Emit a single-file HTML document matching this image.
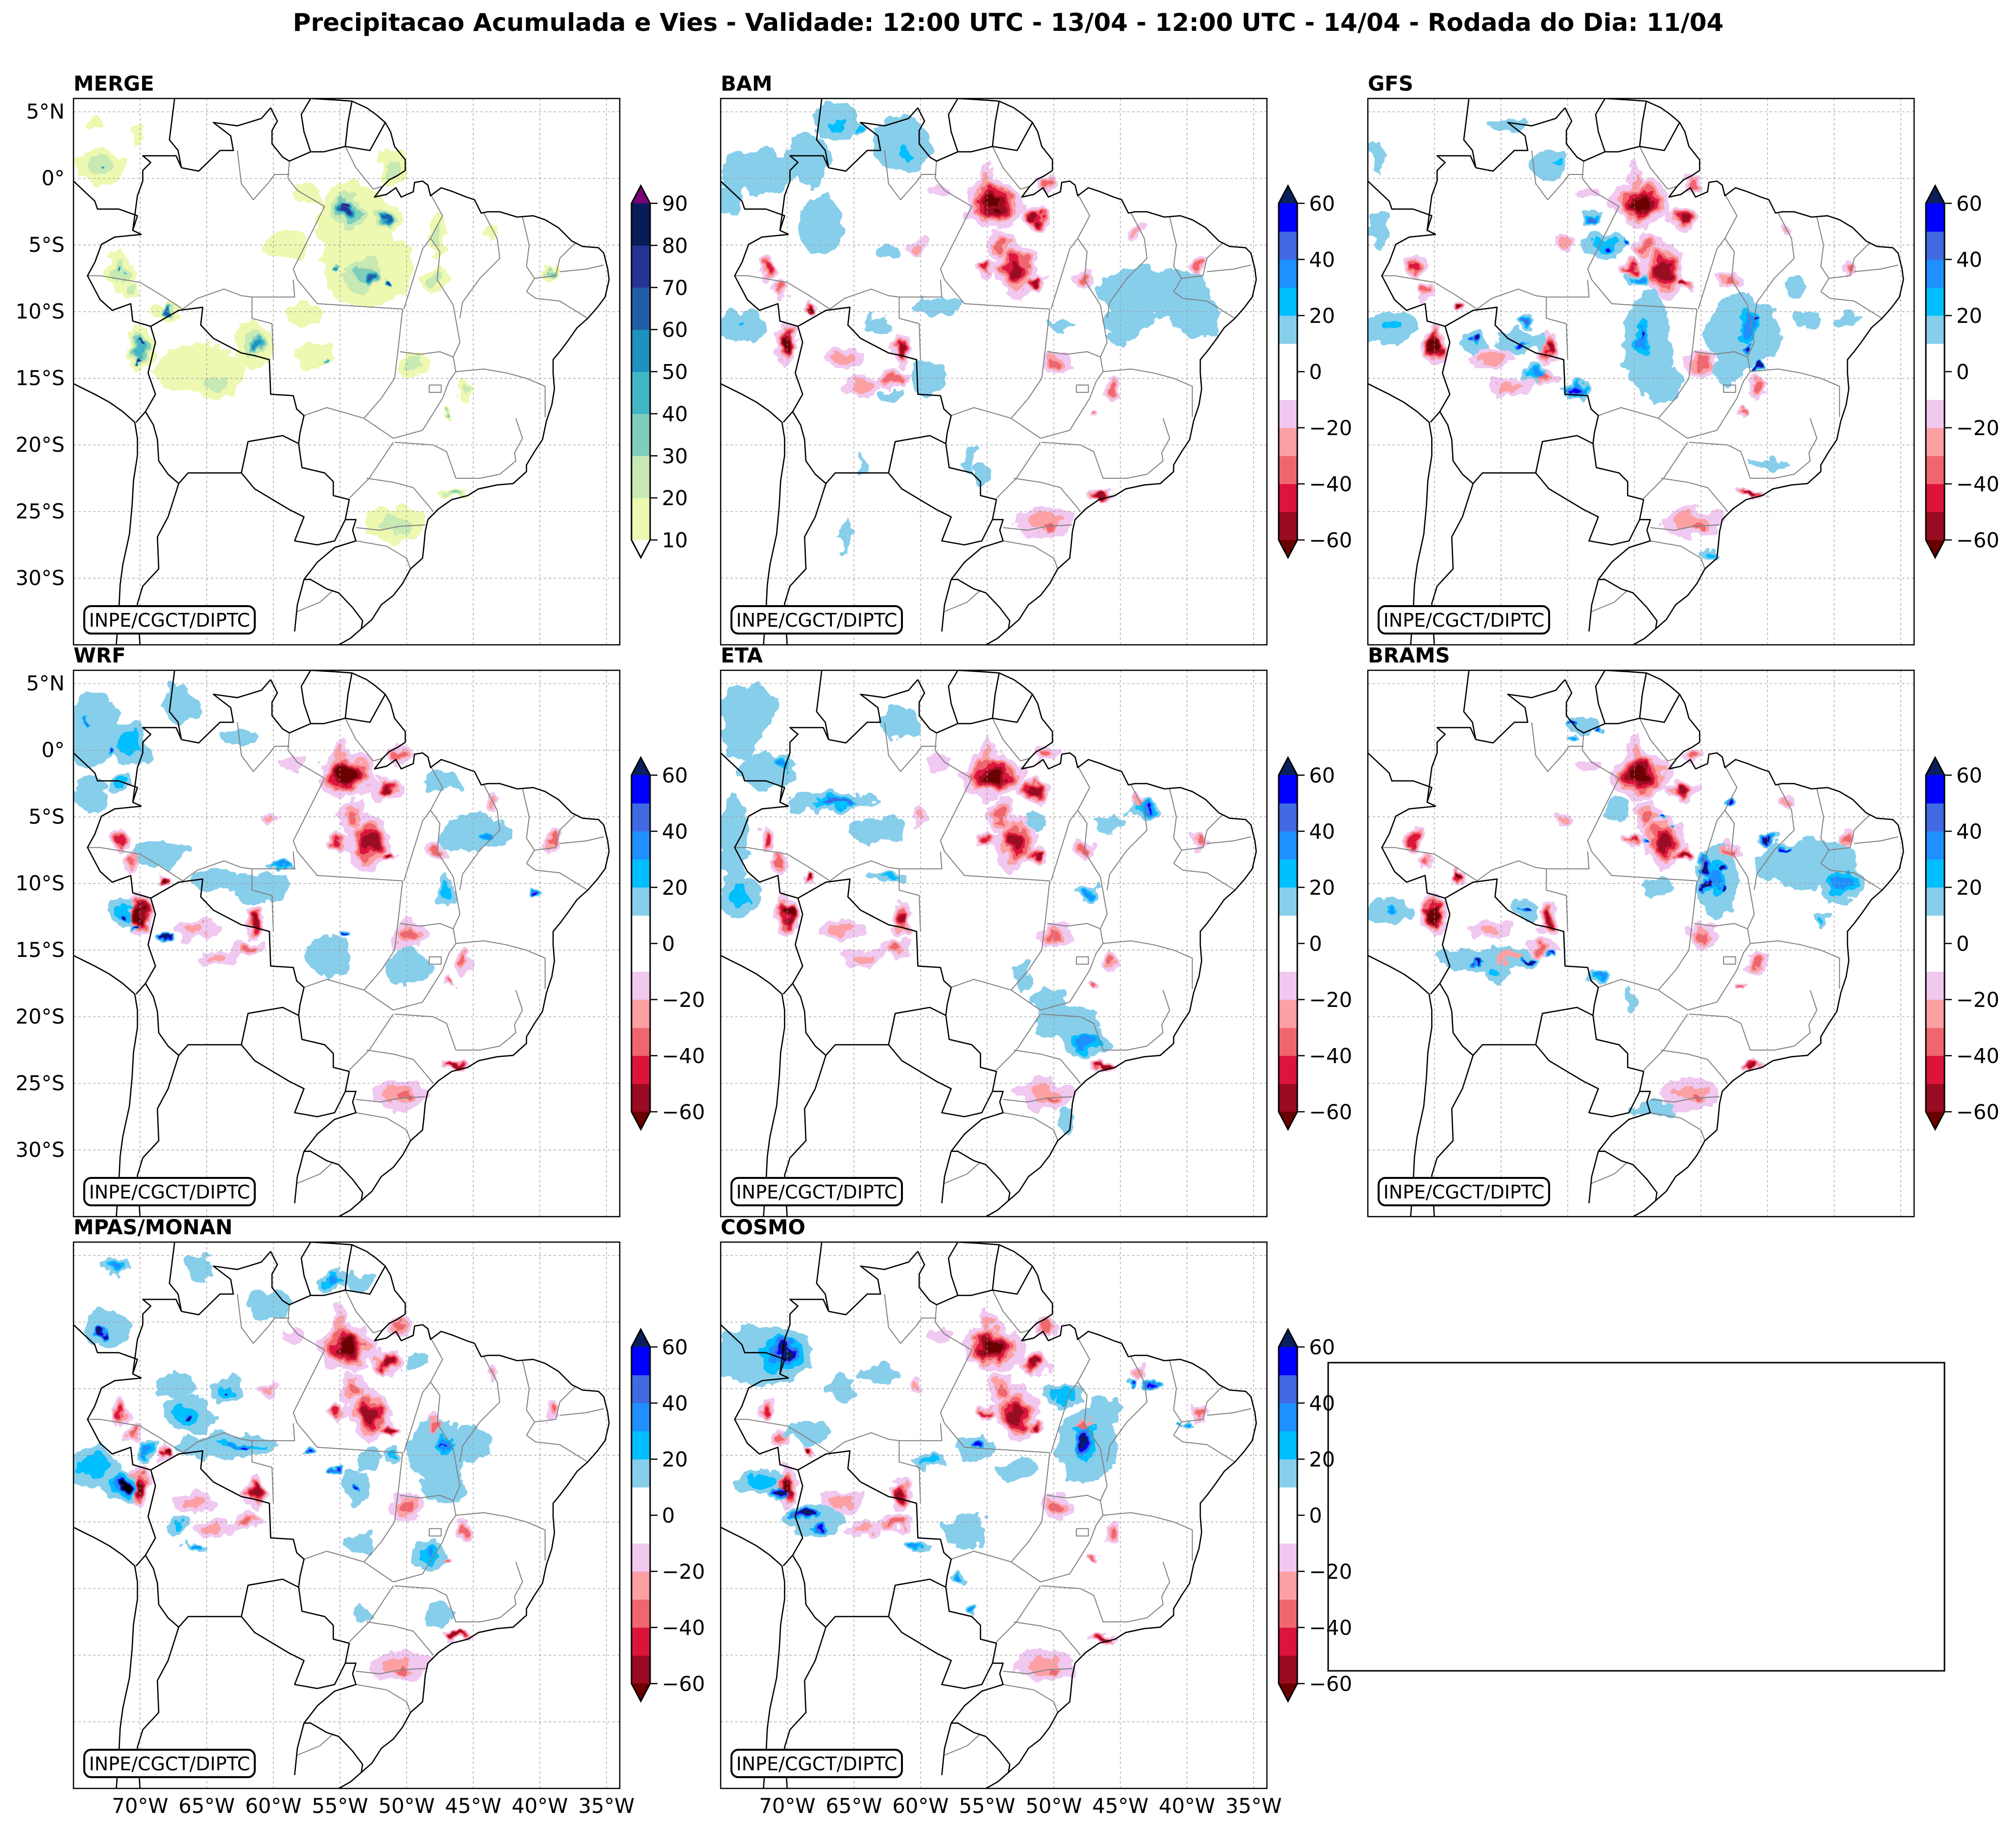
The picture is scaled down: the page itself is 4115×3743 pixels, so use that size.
<!DOCTYPE html>
<html><head><meta charset="utf-8"><title>Precipitacao Acumulada e Vies</title>
<style>
html,body{margin:0;padding:0;background:#fff;}
svg{display:block;font-family:"DejaVu Sans","Liberation Sans",sans-serif;}
</style></head>
<body>
<svg id="fig" xmlns="http://www.w3.org/2000/svg" width="4115" height="3743" viewBox="0 0 4115 3743">
<defs>
<filter id="rough" x="-5%" y="-5%" width="110%" height="110%">
<feTurbulence type="fractalNoise" baseFrequency="0.028" numOctaves="3" seed="7" result="n"/>
<feDisplacementMap in="SourceGraphic" in2="n" scale="40" xChannelSelector="R" yChannelSelector="G"/>
</filter>
</defs>
<rect x="0" y="0" width="4115" height="3743" fill="#fff"/>
<text x="2058" y="63" text-anchor="middle" font-size="50" font-weight="bold">Precipitacao Acumulada e Vies - Validade: 12:00 UTC - 13/04 - 12:00 UTC - 14/04 - Rodada do Dia: 11/04</text>
</svg>
<script>
// ---------- tick / level data ----------
const latTicks = [5, 0, -5, -10, -15, -20, -25, -30];
const latLabels = ["5°N", "0°", "5°S", "10°S", "15°S", "20°S", "25°S", "30°S"];
const lonTicks = [-70, -65, -60, -55, -50, -45, -40, -35];
const lonLabels = ["70°W", "65°W", "60°W", "55°W", "50°W", "45°W", "40°W", "35°W"];
const mergeLevels = [10, 20, 30, 40, 50, 60, 70, 80, 90];
const mergeColors = ["#edf8b1", "#c7e9b4", "#7fcdbb", "#41b6c4", "#1d91c0", "#225ea8", "#253494", "#081d58"];
const biasLevels = [-60, -50, -40, -30, -20, -10, 0, 10, 20, 30, 40, 50, 60];
const biasColors = ["#990b20", "#dc143c", "#f0666e", "#fca0a4", "#f0c8f0", "#ffffff", "#ffffff", "#87ceeb", "#00bfff", "#1e90ff", "#4169e1", "#0000ff"];
const biasTicks = [60, 40, 20, 0, -20, -40, -60];

// ---------- field blobs: [lon, lat, rxDeg, ryDeg, level] ----------
const mergeBlobs = [
 [-54,-3,2.5,2.5,1],[-54.5,-2.5,1.6,1.8,4],[-54.6,-2.5,1.0,1.2,7],[-54.5,-1.9,0.6,0.4,9],
 [-51.6,-3.0,1.0,0.8,3],[-51.6,-3,0.6,0.5,6],
 [-53,-6.5,3,3,1],[-53.2,-7.2,1.8,1.6,3],[-52.7,-7.5,0.8,1.0,6],[-51.3,-7.8,0.5,0.3,7],[-55.2,-6.8,0.4,0.4,5],
 [-59,-5,1.5,1.0,1],[-73,1,1.6,1.2,2],[-72.8,0.7,0.3,0.3,5],[-73.3,4.0,0.5,0.5,1],[-70.3,3.3,0.5,0.7,1],
 [-71.6,-7,0.9,1.5,2],[-71.6,-6.7,0.3,0.3,5],[-70.7,-8.5,0.6,0.6,2],[-68,-10,1,0.6,2],[-68.2,-9.9,0.5,0.5,6],
 [-70,-12.8,0.9,1.5,4],[-69.9,-12.2,0.3,0.3,8],[-70.1,-13.6,0.4,0.3,9],
 [-65.5,-14.3,3.0,1.6,1],[-64.3,-15.5,1.5,0.9,2],[-61.4,-12.5,1.3,1.6,2],[-61.3,-12.6,0.7,1.0,5],
 [-57.5,-10.2,1.2,0.6,1],[-57,-13.4,1.5,0.8,1],[-56,-13.8,0.3,0.3,4],[-49.6,-13.9,1.0,0.7,2],
 [-45.7,-16,0.5,0.6,2],[-47,-17.6,0.3,0.3,3],[-47.6,-4.3,0.7,1.5,2],[-48,-7.5,1.0,0.9,2],
 [-39.2,-7,0.5,0.6,3],[-43.7,-4,0.4,0.6,1],[-46.5,-23.6,1.0,0.4,3],[-50.9,-25.9,2.0,1.2,2],
 [-51,0.8,1.0,1.3,2],[-57.5,-1.3,1.0,0.6,1]
];
const biasCommon = [
 [-54.5,-1.9,2.0,1.6,-6],[-55,-0.3,0.5,1.3,-2],[-51.4,-3.0,1.1,0.8,-5],[-52.8,-6.9,1.4,1.9,-5],
 [-51.3,-7.9,0.7,0.5,-5],[-54.0,-5.0,0.9,1.1,-3],[-55.1,-6.7,0.8,0.5,-4],[-71.5,-6.7,0.6,0.9,-4],
 [-70.6,-8.5,0.6,0.6,-3],[-68.2,-9.7,0.45,0.5,-6],[-70.0,-12.4,0.8,1.5,-6],[-61.4,-12.8,0.7,1.1,-5],
 [-62.0,-14.9,1.2,0.6,-3],[-65.9,-13.5,1.5,0.7,-2],[-49.9,-13.9,1.1,0.9,-3],[-45.7,-15.8,0.6,0.8,-3],
 [-47.0,-17.7,0.4,0.3,-3],[-46.3,-23.7,0.9,0.35,-5],[-50.7,-25.8,2.0,1.0,-2],[-50.2,-26.1,1.0,0.5,-3],
 [-47.8,-7.6,0.8,0.6,-3],[-39.1,-6.8,0.5,0.7,-3],[-43.6,-3.9,0.5,0.5,-2],[-50.6,-0.4,0.8,0.6,-3],
 [-58.5,-1.0,0.8,0.5,-1],[-60.2,-5,0.6,0.5,-2],[-64.3,-15.6,1.4,0.6,-2]
];
const bamBlobs = [
 [-72.3,0.5,2.5,1.5,1],[-68.5,1.5,1.5,1.8,1],[-66.4,4.3,1.5,1.3,1],[-66.2,4.0,0.6,0.5,2],[-61.4,2.5,2.0,1.8,1],
 [-61,1.8,0.8,0.8,2],[-64.5,3.7,0.5,0.4,2],[-67.5,-3.5,1.5,2.0,1],[-62.4,-5.6,0.8,0.5,1],
 [-42.5,-8.5,4.0,1.6,1],[-44.5,-10.5,1.5,1.2,1],[-39.5,-10.5,1.6,1.4,1],[-58.8,-9.6,1.5,0.6,1],
 [-73.4,-11,1.6,1.0,1],[-73.6,-10.8,0.5,0.4,2],[-59.3,-14.9,1.2,1.2,1],[-63,-11,1.0,0.6,1],
 [-56.2,-21.2,0.4,1.0,1],[-55.4,-22.2,0.4,0.8,1],[-65.6,-26.8,0.25,1.2,1],[-64.5,-21.5,0.25,0.8,1],
 [-49.3,-11,0.8,0.4,1],[-45.4,-12,0.6,0.4,1],[-74.3,-1.5,0.8,1.2,1],[-62,-16.3,0.8,0.5,1]
];
const gfsBlobs = [
 [-61.4,1.0,1.3,1.2,1],[-60.5,1.2,0.5,0.3,2],[-64.5,4.0,1.5,0.5,1],[-74.2,-3.9,0.7,1.3,1],
 [-58.2,-2.9,0.6,0.5,4],[-57.2,-5,1.5,0.8,2],[-57.2,-5.1,0.3,0.3,5],[-55.6,-4.7,0.3,0.3,5],
 [-54.6,-7.6,1.0,0.5,3],[-54.0,-12.5,1.6,3.5,1],[-54.4,-12.0,0.7,2,3],[-54.4,-11.6,0.3,0.3,6],
 [-46.8,-11.5,2.5,2.5,1],[-46.5,-11,0.8,2,3],[-46.2,-10.7,0.3,0.3,6],[-46.5,-12.8,0.3,0.3,6],[-45.5,-14.3,0.3,0.3,6],
 [-73.4,-11.2,1.8,1.0,1],[-73.2,-11.3,0.8,0.5,2],[-66.9,-12.3,0.9,0.7,1],[-66.9,-12.2,0.5,0.4,6],
 [-63.5,-12.3,1.7,0.8,1],[-63.5,-12.4,0.7,0.3,5],[-63,-10.7,0.6,0.5,4],[-62.4,-14.6,0.8,0.7,3],
 [-59.3,-15.9,0.9,0.6,5],[-42,-10.7,0.9,0.7,1],[-38.9,-10.7,0.8,0.5,1],[-42.8,-8.1,0.7,0.7,1],
 [-44.9,-21.4,1.4,0.3,1],[-49.3,-28.3,0.6,0.4,2],[-53,-15.5,1.4,1.2,1],[-48,-14.6,1.2,0.8,1],[-74.3,1.5,0.5,1.2,1]
];
const wrfBlobs = [
 [-73.5,1.5,1.8,2.5,1],[-70.8,0.5,1.5,1.5,2],[-72.1,-0.2,0.3,0.3,5],[-74.2,2.25,0.3,0.3,4],
 [-73.7,-3.4,1.2,1.2,1],[-71.5,-2.5,0.8,0.6,2],[-67.1,3.4,1.2,1.5,1],[-71.1,-12.3,1.3,0.9,2],
 [-71.2,-12.5,0.4,0.4,6],[-70.3,-13.3,0.4,0.2,6],[-68.3,-14.1,0.5,0.3,6],[-59.3,-8.6,1.0,0.3,3],
 [-61.1,-10.2,2.0,1.0,1],[-55.9,-15.4,1.5,1.5,1],[-49.9,-16.2,1.5,1.2,1],[-44.9,-6.3,2.5,1.2,1],
 [-44,-6.5,0.6,0.5,3],[-47.5,-2.3,1.3,0.8,1],[-40.2,-10.8,0.3,0.3,5],[-68.5,-7.8,2.0,0.8,1],
 [-64.5,-9.7,1.5,0.8,1],[-54.6,-13.7,0.3,0.3,5],[-47.0,-10.5,0.6,1.2,2],[-62.5,1.0,1.2,0.5,1]
];
const etaBlobs = [
 [-66.6,-3.9,3.0,0.6,2],[-66.2,-3.9,1.8,0.3,4],[-73.5,2,1.5,2.5,1],[-71.5,-1.5,2,1.2,1],
 [-70.3,-1.0,0.7,0.8,3],[-74,-7,1.0,3.5,1],[-73.6,-11,1.2,1.4,2],[-63.2,-6,2.0,0.9,1],
 [-62.4,-9.4,1.3,0.4,2],[-43.1,-4.4,1.2,0.5,3],[-43.0,-4.4,0.4,0.2,5],[-47.5,-10.7,0.9,0.7,3],
 [-49,-20.5,2.2,1.2,1],[-47.5,-22,1.6,0.9,3],[-50.5,-19,1.3,1.0,1],[-49.1,-27.8,0.5,1.0,1],
 [-52.2,-17,0.6,1.0,1],[-45.7,-5.5,1.2,0.5,1],[-61.6,2.1,1.5,1.0,1],[-72.4,3.2,1.5,1.5,1],[-51.3,-5.2,0.6,0.5,1]
];
const bramsBlobs = [
 [-48.8,-10,1.5,2.5,1],[-49.0,-9.5,1.0,1.8,3],[-49.7,-8.5,0.5,1.0,6],[-49.6,-10.1,0.4,1.0,6],
 [-48.3,-9,0.3,0.4,6],[-48.5,-10.4,0.3,0.3,6],[-42,-8.5,3.5,1.6,1],[-45,-6.7,0.7,0.5,6],
 [-43.5,-7.3,0.4,0.3,5],[-39.5,-10,1.5,1.2,3],[-66,-15.7,3.5,0.8,1],[-66.7,-15.9,0.5,0.3,6],
 [-63,-15.7,0.7,0.3,6],[-61,-15.4,0.4,0.2,5],[-65.3,-16.7,0.8,0.6,2],[-73.4,-12,1.5,0.7,1],
 [-73.3,-12,0.6,0.3,3],[-63.2,-11.8,0.8,0.8,1],[-63.2,-11.9,0.35,0.3,6],[-58.8,1.9,1.0,0.6,1],
 [-59.5,2,0.4,0.2,5],[-57.6,1.5,0.3,0.2,5],[-59.6,0.8,0.5,0.3,3],[-56.2,-4.4,0.8,0.8,1],
 [-53,-5,0.3,0.2,5],[-52,-5.5,0.2,0.2,4],[-54.1,-6.8,0.2,0.2,5],[-47.8,-3.9,0.6,0.3,5],
 [-53.3,-10.2,1.0,0.6,1],[-53.5,-26.9,1.5,0.5,1],[-55.4,-18.6,0.4,1.0,1],[-57.7,-17,0.6,0.4,3],[-41,-12.8,0.5,0.5,2]
];
const mpasBlobs = [
 [-63.5,-9.3,3.5,0.8,1],[-62.5,-9.3,2.4,0.4,3],[-62,-9.4,0.8,0.25,5],[-57.3,-9.7,0.5,0.3,5],
 [-66.4,-7,1.8,1.2,2],[-66.3,-7,0.4,0.4,6],[-63.5,-5.2,1.2,0.8,2],[-63.5,-5.3,0.3,0.2,6],
 [-67.4,-4.7,1.3,1.0,1],[-73.5,-10.8,1.8,1.4,2],[-71.3,-12.3,1.3,1.0,3],[-71.2,-12.3,0.6,0.6,7],
 [-69.5,-9.7,0.6,0.9,3],[-71.9,4.1,1.0,0.6,3],[-72.5,-0.5,1.5,1.3,1],[-72.8,-0.9,0.5,0.5,6],
 [-65.6,4,0.8,1.0,1],[-60.3,1.3,1.5,1.0,1],[-55.6,3.2,0.8,0.7,3],[-53.5,2.9,1.2,0.7,1],
 [-47.5,-9.7,2.0,2.3,1],[-47.2,-9.3,0.8,1.0,3],[-47.4,-9.3,0.2,0.2,5],[-44.9,-9.1,1.2,1.2,1],
 [-47.2,-12.3,1.5,1.2,1],[-48.3,-17.5,1.2,1.0,2],[-48.3,-17.4,0.5,0.6,3],[-53.8,-12.3,1.0,1.3,1],
 [-53.8,-12.3,0.3,0.3,5],[-55.4,-11.2,0.4,0.4,5],[-52.8,-10.2,0.8,0.8,1],[-51.2,-10,0.5,0.7,2],
 [-53.5,-16.5,0.9,0.9,1],[-47.5,-22,0.9,0.8,1],[-53.3,-22,0.5,0.5,1],[-66.1,-17,0.7,0.4,3],
 [-67.1,-15.2,0.7,0.6,2],[-49.1,-2.9,0.7,0.6,1]
];
const cosmoBlobs = [
 [-72,-2.5,3,2,1],[-70.5,-2.5,2.2,1.8,3],[-70.3,-2.3,1.3,1.3,6],[-72,-12,2,0.8,2],
 [-70.5,-12.8,0.8,0.5,6],[-68.8,-14.5,1.2,0.5,6],[-67.5,-15.3,0.8,0.4,5],[-68,-14.8,2,1,1],
 [-47.5,-9.2,2.0,2.5,1],[-47.6,-9,1.3,1.8,3],[-47.8,-8.9,0.9,1.5,6],[-55.9,-9.4,1.3,0.8,1],
 [-55.6,-9.1,0.5,0.3,5],[-49.3,-5.5,1.5,0.6,2],[-63.2,-3.9,1.5,0.6,1],[-65.8,-5,1,1,1],
 [-59.3,-10.5,1.2,0.5,2],[-52.8,-11,1.5,0.6,1],[-56.7,-15.7,1.5,1.0,1],[-60.3,-17,0.8,0.4,3],
 [-57.2,-19.4,0.6,0.4,3],[-42.5,-4.7,0.5,0.3,5],[-44.1,-4.6,0.3,0.2,5],[-68.5,-8.4,1.5,0.7,1],
 [-46.2,-6.5,1.2,0.8,1],[-39.9,-7.8,0.4,0.2,3],[-56.2,-21.3,0.4,0.4,3]
];

// ---------- geography (lon, lat) ----------
const coastLines = [
 [[-57.2,6.0],[-55.5,5.9],[-54.1,5.8],[-53,5.3],[-52.3,4.8],[-51.6,4.2],[-51.2,3.5],[-50.9,2.4],[-50.1,1.4],[-50.1,0.6],[-50.7,0.2],[-51.3,-0.1],[-51.8,-0.6],[-52.4,-1.4],[-51.5,-1.2],[-50.8,-0.7],[-50.4,-1.4],[-49.5,-1.0],[-49.4,-0.3],[-48.8,-0.2],[-48.4,-0.5],[-48.2,-1.3],[-47.4,-0.7],[-46.5,-1.0],[-45.5,-1.4],[-44.9,-1.6],[-44.4,-2.6],[-43.9,-2.5],[-43.0,-2.5],[-41.7,-2.9],[-40.5,-2.8],[-39.6,-3.1],[-38.6,-3.7],[-37.6,-4.7],[-36.8,-5.1],[-35.6,-5.2],[-35.2,-5.6],[-34.9,-6.8],[-34.8,-7.6],[-35.1,-8.9],[-35.7,-9.7],[-36.4,-10.5],[-37.2,-11.2],[-37.9,-12.2],[-38.5,-13.0],[-39.0,-13.6],[-39.0,-14.6],[-38.9,-15.8],[-39.1,-17.0],[-39.5,-18.2],[-39.8,-19.6],[-40.4,-20.5],[-41.0,-21.5],[-41.0,-22.0],[-42.0,-22.9],[-43.2,-23.0],[-44.6,-23.3],[-45.4,-23.8],[-46.6,-24.1],[-47.6,-24.8],[-48.4,-25.6],[-48.6,-26.5],[-48.7,-27.6],[-48.8,-28.5],[-49.7,-29.3],[-50.3,-30.4],[-51.0,-31.3],[-51.9,-32.0],[-52.6,-33.1],[-53.4,-33.8],[-54.2,-34.5],[-54.9,-34.9],[-55.5,-35.2]],
 [[-75,-15.4],[-74.2,-15.8],[-73.4,-16.2],[-72.3,-16.8],[-71.3,-17.5],[-70.4,-18.3],[-70.2,-19.5],[-70.2,-20.8],[-70.5,-22.7],[-70.6,-24.5],[-70.8,-26.7],[-71.3,-29],[-71.5,-30.5],[-71.6,-32.5],[-71.8,-35.2]]
];
const borderLines = [
 [[-51.6,4.2],[-52.2,3.1],[-52.75,2.1],[-54.6,2.4],[-56.2,2.0],[-57.2,2.0],[-58.8,1.3],[-59.3,1.6],[-60.1,2.6],[-60.1,3.6],[-59.7,4.3],[-60.2,5.3]],
 [[-60.2,5.3],[-60.9,4.5],[-62.7,3.95],[-64.5,4.2],[-63.2,3.2],[-63.0,2.1],[-64.0,2.1],[-65.6,0.55],[-66.9,0.8]],
 [[-66.9,0.8],[-67.3,1.7],[-69.8,1.7],[-69.2,1.2],[-69.8,0.6],[-69.8,-0.2],[-70.2,-1.3],[-70.55,-3.9],[-69.9,-4.2]],
 [[-69.9,-4.2],[-71.9,-4.4],[-72.9,-4.95],[-73.4,-6.3],[-73.95,-7.3],[-73.0,-9.1],[-72.1,-9.9],[-70.7,-9.4],[-70.55,-10.7],[-69.2,-11.1]],
 [[-69.2,-11.1],[-67.1,-9.9],[-65.3,-9.67],[-65.45,-11],[-64.5,-12],[-62.4,-13.1],[-61.4,-13.3],[-60.3,-13.6],[-60.2,-16.2],[-58.5,-16.3],[-58.25,-17.3],[-57.7,-17.8],[-58.0,-19.1],[-58.1,-19.9]],
 [[-58.1,-19.9],[-57.85,-21.7],[-56.15,-22.1],[-55.5,-22.75],[-55.5,-23.8],[-54.3,-24.1],[-54.6,-25.6]],
 [[-54.6,-25.6],[-53.8,-25.6],[-54.05,-26.4],[-53.8,-27.2],[-55.4,-27.7],[-56.7,-28.8],[-57.7,-30.1]],
 [[-57.7,-30.1],[-57.2,-30.1],[-56.0,-30.8],[-55.1,-31.1],[-54.05,-32.2],[-53.3,-33.2],[-53.4,-33.8]],
 [[-57.7,-30.1],[-58.2,-32],[-58.4,-34]],
 [[-57.2,2.0],[-57.7,3.5],[-57.9,4.8],[-57.2,6.0]],
 [[-54.6,2.4],[-54.4,4.2],[-54.1,5.8]],
 [[-67.4,6.1],[-67.8,2.9],[-67.15,2.1],[-66.9,0.8]],
 [[-75,-0.2],[-73.4,-1.7],[-73.2,-2.3],[-71.6,-2.3],[-70.2,-2.8],[-70.55,-3.9]],
 [[-69.2,-11.1],[-68.85,-12.3],[-69.4,-14.6],[-68.85,-16.2],[-69.6,-17.5],[-70.3,-18.3]],
 [[-69.6,-17.5],[-69.0,-18.5],[-68.7,-19.6],[-68.6,-21.2],[-67.9,-22.2],[-67.1,-22.9]],
 [[-67.1,-22.9],[-67.9,-25.4],[-68.7,-26.9],[-68.6,-29.3],[-69.8,-30.6],[-70.2,-31.9],[-70.0,-35.2]],
 [[-67.1,-22.9],[-66.4,-22.1],[-64.5,-22.1],[-62.4,-22.1]],
 [[-62.4,-22.1],[-61.9,-19.75],[-59.3,-19.3],[-58.1,-19.9]],
 [[-62.4,-22.1],[-61.4,-23.3],[-58.8,-24.85],[-57.7,-25.4],[-58.4,-27.2],[-56.7,-27.5],[-55.4,-27.2],[-54.6,-25.6]]
];
const stateLines = [
 [[-62.7,2.1],[-62.4,-0.4],[-61.5,-1.6],[-60.3,-0.25],[-59.9,0.3],[-58.8,0.3]],
 [[-58.8,1.3],[-58.9,0.0],[-58.2,-0.9],[-56.15,-2.1],[-58.5,-6.8],[-58.2,-7.6],[-56.7,-9.4],[-50.3,-9.8]],
 [[-58.5,-7.6],[-58.4,-8.9],[-61.6,-8.9],[-61.6,-10.5],[-60.1,-10.9],[-60.0,-13.6]],
 [[-66.8,-9.8],[-65.7,-9.0],[-63.7,-8.3],[-62.4,-8.8],[-61.6,-8.9]],
 [[-74,-7.3],[-73.0,-7.3],[-70.0,-7.8],[-68.5,-8.7],[-66.8,-9.8]],
 [[-54.6,2.4],[-53.8,0.8],[-52.5,-0.8],[-51.8,-0.6]],
 [[-48.3,-1.0],[-47.3,-2.8],[-48.2,-4.5],[-48.8,-5.3],[-50.2,-9.8]],
 [[-48.2,-4.5],[-47.5,-5.5],[-47.7,-7.6],[-46.5,-9.5],[-46.0,-12.3],[-46.5,-13.4]],
 [[-50.5,-13.0],[-49,-13.2],[-47.5,-13.0],[-46.5,-13.4]],
 [[-50.3,-9.8],[-50.6,-12.5],[-50.9,-15.0],[-51.9,-16.5],[-53.2,-18.0]],
 [[-44.2,-2.6],[-43.2,-4.5],[-43.0,-6.0],[-44.5,-7.5],[-45.8,-9.3],[-46.0,-10.5]],
 [[-41.3,-2.9],[-40.8,-5],[-41.0,-6.6],[-40.4,-7.5]],
 [[-37.3,-4.8],[-38.5,-6.0],[-38.8,-7.3],[-40.4,-7.5],[-41.0,-8.5]],
 [[-41.0,-8.5],[-40.3,-9.0],[-38.5,-9.2],[-36.4,-10.5]],
 [[-35.2,-6.5],[-36.5,-6.8],[-38.5,-7.0]],
 [[-46.3,-14.5],[-44.2,-14.3],[-42.5,-14.6],[-41.0,-15.0],[-39.6,-15.6],[-39.6,-17.9]],
 [[-51.0,-19.5],[-48.8,-18.9],[-47.3,-16.5],[-46.8,-15.2],[-46.3,-14.5]],
 [[-41.8,-18.0],[-41.3,-19.5],[-41.9,-20.6],[-41.8,-21.2],[-43,-22.2],[-44.5,-22.5],[-46.3,-22.5],[-47.0,-20.5],[-48.0,-20.0],[-50.9,-19.8]],
 [[-57.7,-17.8],[-56.0,-17.2],[-54.9,-17.5],[-53.2,-18.0],[-51.0,-19.5]],
 [[-51.0,-19.8],[-52.8,-22.5],[-54.3,-24.0]],
 [[-53.0,-22.5],[-51.0,-22.8],[-49.5,-23.2],[-48.4,-24.5],[-48.0,-25.0]],
 [[-53.8,-26.2],[-52.0,-26.4],[-50.5,-26.1],[-48.6,-26.0]],
 [[-53.8,-27.2],[-51.5,-27.6],[-50.0,-28.5],[-49.7,-29.3]],
 [[-46.5,-13.4],[-46.3,-14.5]],
 [[-48.3,-15.5],[-47.4,-15.5],[-47.4,-16.05],[-48.3,-16.05],[-48.3,-15.5]],
 [[-58.2,-32.5],[-56.5,-31.8],[-55.5,-30.9]]
];

// ---------- layout ----------
const NS = "http://www.w3.org/2000/svg";
const svg = document.getElementById("fig");
const colX = [150, 1471, 2792];
const rowY = [201, 1368, 2535];
const SIZE = 1115;
const LON0 = -75, LAT1 = 6, SPAN = 41;
const K = SIZE / SPAN;
function xScale(c, lon) { return colX[c] + (lon - LON0) * K; }
function yScale(r, lat) { return rowY[r] + (LAT1 - lat) * K; }
function mk(tag, attrs, parent) {
  const e = document.createElementNS(NS, tag);
  for (const k in attrs) e.setAttribute(k, attrs[k]);
  (parent || svg).appendChild(e);
  return e;
}
function mergeColor(lv) { return lv >= 9 ? "#7a0177" : mergeColors[lv - 1]; }
function biasColor(lv) {
  const pos = ["#87ceeb", "#00bfff", "#1e90ff", "#4169e1", "#0000ff", "#0a1f5c"];
  const neg = ["#f0c8f0", "#fca0a4", "#f0666e", "#dc143c", "#990b20", "#6b0000"];
  return lv > 0 ? pos[lv - 1] : neg[-lv - 1];
}

const panels = [
  { title: "MERGE", r: 0, c: 0, merge: true, blobs: mergeBlobs },
  { title: "BAM", r: 0, c: 1, blobs: bamBlobs },
  { title: "GFS", r: 0, c: 2, blobs: gfsBlobs },
  { title: "WRF", r: 1, c: 0, blobs: wrfBlobs },
  { title: "ETA", r: 1, c: 1, blobs: etaBlobs },
  { title: "BRAMS", r: 1, c: 2, blobs: bramsBlobs },
  { title: "MPAS/MONAN", r: 2, c: 0, blobs: mpasBlobs },
  { title: "COSMO", r: 2, c: 1, blobs: cosmoBlobs }
];

panels.forEach((p, i) => {
  const x0 = colX[p.c], y0 = rowY[p.r];
  const g = mk("g", {});
  
  
  const cp = mk("clipPath", { id: "clip" + i }, g);
  mk("rect", { x: x0, y: y0, width: SIZE, height: SIZE }, cp);

  const fg = mk("g", { "clip-path": "url(#clip" + i + ")" }, g);
  const fill = mk("g", { filter: "url(#rough)" }, fg);
  
  
  const list = p.merge ? p.blobs : biasCommon.concat(p.blobs);
  for (let k = 1; k <= 9; k++) {
    list.forEach(b => {
      const L = Math.abs(b[4]);
      if (k > L) return;
      let s = 1 - 0.8 * (k - 1) / L;
      if (k === 1) s = 1.12;
      const col = p.merge ? mergeColor(k) : biasColor(Math.sign(b[4]) * k);
      const el = mk("ellipse", {
        cx: xScale(p.c, b[0]), cy: yScale(p.r, b[1]),
        rx: b[2] * K * s, ry: b[3] * K * s, fill: col
      }, fill);
      
      
    });
  }

  const gg = mk("g", { "clip-path": "url(#clip" + i + ")", stroke: "#9a9a9a", "stroke-width": 1.2, "stroke-dasharray": "5,5", fill: "none" }, g);
  
  
  lonTicks.forEach(lon => { mk("line", { x1: xScale(p.c, lon), x2: xScale(p.c, lon), y1: y0, y2: y0 + SIZE }, gg); });
  latTicks.forEach(lat => { mk("line", { y1: yScale(p.r, lat), y2: yScale(p.r, lat), x1: x0, x2: x0 + SIZE }, gg); });

  const geo = mk("g", { "clip-path": "url(#clip" + i + ")", fill: "none", "stroke-linejoin": "round" }, g);
  
  
  function drawLines(arr, stroke, w, nm) {
    arr.forEach(line => {
      const d = line.map((pt, j) => (j ? "L" : "M") + xScale(p.c, pt[0]).toFixed(1) + "," + yScale(p.r, pt[1]).toFixed(1)).join("");
      const e = mk("path", { d: d, stroke: stroke, "stroke-width": w }, geo);
      
      
    });
  }
  drawLines(stateLines, "#808080", 2, "state-border");
  drawLines(borderLines, "#000", 2.6, "country-border");
  drawLines(coastLines, "#000", 2.6, "coastline");

  const fr = mk("rect", { x: x0, y: y0, width: SIZE, height: SIZE, fill: "none", stroke: "#000", "stroke-width": 2.5 }, g);
  
  

  const t = mk("text", { x: x0, y: y0 - 16, "font-size": 41.7, "font-weight": "bold" }, g);
  t.textContent = p.title;
  
  

  const cb = mk("g", {}, g);
  
  
  mk("rect", { x: x0 + 22, y: y0 + 1036, width: 348, height: 56, rx: 14, ry: 14, fill: "#fff", stroke: "#000", "stroke-width": 4 }, cb);
  const ct = mk("text", { x: x0 + 196, y: y0 + 1078, "text-anchor": "middle", "font-size": 38 }, cb);
  ct.textContent = "INPE/CGCT/DIPTC";

  if (p.c === 0 && p.r < 2) {
    latTicks.forEach((lat, j) => {
      const lt = mk("text", { x: x0 - 18, y: yScale(p.r, lat) + 14, "text-anchor": "end", "font-size": 41.7 }, g);
      lt.textContent = latLabels[j];
      
      
    });
  }
  if (p.r === 2) {
    lonTicks.forEach((lon, j) => {
      const lt = mk("text", { x: xScale(p.c, lon), y: y0 + SIZE + 50, "text-anchor": "middle", "font-size": 41.7 }, g);
      lt.textContent = lonLabels[j];
      
      
    });
  }
});

function colorbar(c, r, isMerge) {
  const cx0 = 1289 + 1321 * c, cw = 38;
  const top = 415 + 1167 * r, bot = 1102 + 1167 * r, h = bot - top;
  const g = mk("g", {});
  
  
  const levels = isMerge ? mergeLevels : biasLevels;
  const colors = isMerge ? mergeColors : biasColors;
  const vmin = levels[0], vmax = levels[levels.length - 1];
  const vy = v => bot - (v - vmin) / (vmax - vmin) * h;
  for (let j = 0; j < colors.length; j++) {
    const y1 = vy(levels[j + 1]), y2 = vy(levels[j]);
    const e = mk("rect", { x: cx0, y: y1, width: cw, height: y2 - y1 + 0.5, fill: colors[j] }, g);
    
    
  }
  const overC = isMerge ? "#7a0177" : "#0a1f5c";
  const underC = isMerge ? "#ffffff" : "#6b0000";
  const tri = 36;
  const tu = mk("path", { d: `M${cx0},${top}L${cx0 + cw / 2},${top - tri}L${cx0 + cw},${top}Z`, fill: overC }, g);
  
  
  const td = mk("path", { d: `M${cx0},${bot}L${cx0 + cw / 2},${bot + tri}L${cx0 + cw},${bot}Z`, fill: underC }, g);
  
  
  mk("path", { d: `M${cx0},${top}L${cx0 + cw / 2},${top - tri}L${cx0 + cw},${top}L${cx0 + cw},${bot}L${cx0 + cw / 2},${bot + tri}L${cx0},${bot}Z`, fill: "none", stroke: "#000", "stroke-width": 3 }, g);
  const ticks = isMerge ? mergeLevels : biasTicks;
  ticks.forEach(v => {
    const y = vy(v);
    mk("line", { x1: cx0 + cw, x2: cx0 + cw + 15, y1: y, y2: y, stroke: "#000", "stroke-width": 2.5 }, g);
    const t = mk("text", { x: cx0 + cw + 24, y: y + 15, "font-size": 41.7 }, g);
    t.textContent = v < 0 ? "\u2212" + Math.abs(v) : String(v);
    
    
  });
}
colorbar(0, 0, true);
colorbar(1, 0, false); colorbar(2, 0, false);
colorbar(0, 1, false); colorbar(1, 1, false); colorbar(2, 1, false);
colorbar(0, 2, false); colorbar(1, 2, false);

const eb = mk("rect", { x: 2711, y: 2781, width: 1258, height: 629, fill: "none", stroke: "#000", "stroke-width": 3 });


</script>
</body></html>
